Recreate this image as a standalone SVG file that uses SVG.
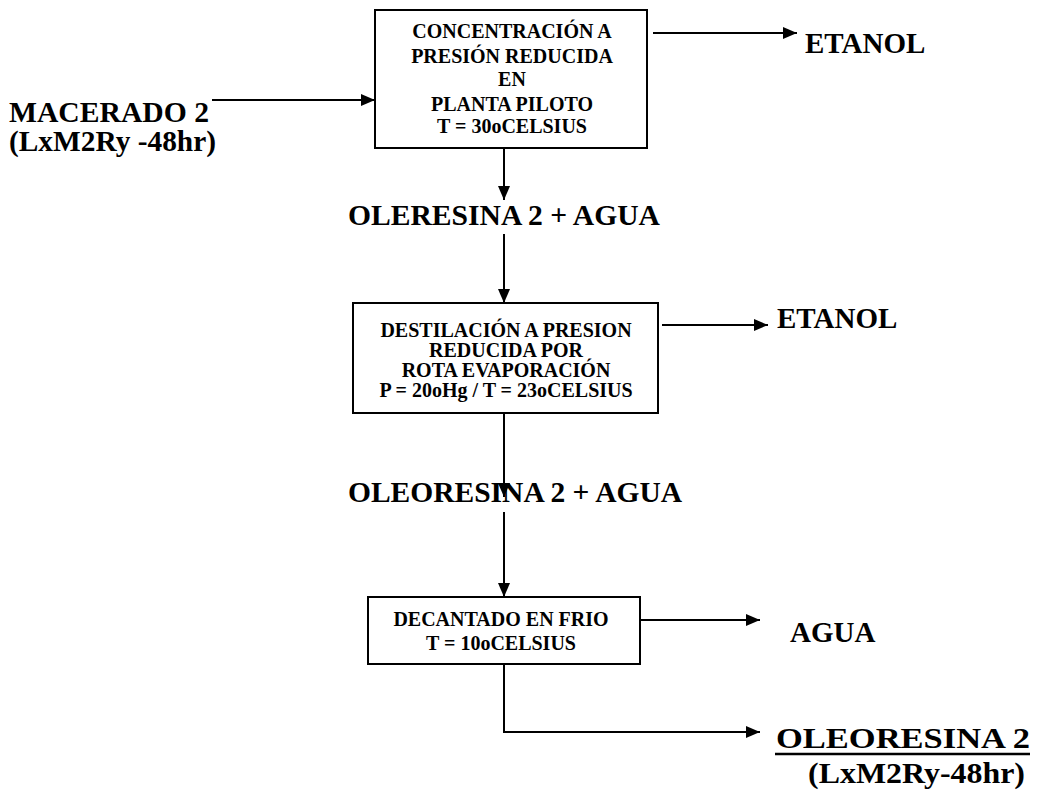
<svg xmlns="http://www.w3.org/2000/svg" width="1037" height="793" viewBox="0 0 1037 793">
  <style>
    .box { fill: #ffffff; stroke: #000000; stroke-width: 2; }
    .step { font-family: "Liberation Serif", "Times New Roman", serif; font-weight: bold; font-size: 20px; fill: #000000; text-anchor: middle; }
    .label { font-family: "Liberation Serif", "Times New Roman", serif; font-weight: bold; font-size: 29px; fill: #000000; }
    .flow { fill: none; stroke: #000000; stroke-width: 2; }
  </style>
  <defs>
    <marker id="arrow" markerWidth="14" markerHeight="12" refX="14" refY="6" orient="auto" markerUnits="userSpaceOnUse">
      <path d="M0,0 L14,6 L0,12 Z" fill="#000000"/>
    </marker>
  </defs>
  <rect width="1037" height="793" fill="#ffffff"/>

  <!-- process connectors -->
  <g id="connectors">
    <line class="flow" x1="212" y1="100" x2="375" y2="100" marker-end="url(#arrow)"/>
    <line class="flow" x1="653" y1="33" x2="797" y2="33" marker-end="url(#arrow)"/>
    <line class="flow" x1="504" y1="148" x2="504" y2="200" marker-end="url(#arrow)"/>
    <line class="flow" x1="504" y1="234" x2="504" y2="303" marker-end="url(#arrow)"/>
    <line class="flow" x1="662" y1="325" x2="768" y2="325" marker-end="url(#arrow)"/>
    <line class="flow" x1="504" y1="413" x2="504" y2="497" marker-end="url(#arrow)"/>
    <line class="flow" x1="504" y1="512" x2="504" y2="597" marker-end="url(#arrow)"/>
    <line class="flow" x1="640" y1="620" x2="760" y2="620" marker-end="url(#arrow)"/>
    <polyline class="flow" points="504,664 504,732 760,732" marker-end="url(#arrow)"/>
  </g>

  <!-- feed -->
  <g id="feed">
    <text class="label" x="9" y="122" font-size="28" textLength="200" lengthAdjust="spacingAndGlyphs">MACERADO 2</text>
    <text class="label" x="9" y="151" font-size="28" textLength="207" lengthAdjust="spacingAndGlyphs">(LxM2Ry -48hr)</text>
  </g>

  <!-- step 1 -->
  <g id="concentracion">
    <rect class="box" x="375" y="10" width="272" height="138"/>
    <text class="step" x="512" y="38">CONCENTRACIÓN A</text>
    <text class="step" x="512" y="63">PRESIÓN REDUCIDA</text>
    <text class="step" x="512" y="86">EN</text>
    <text class="step" x="512" y="111">PLANTA PILOTO</text>
    <text class="step" x="512" y="133">T = 30oCELSIUS</text>
  </g>

  <g id="etanol1">
    <text class="label" x="805" y="53">ETANOL</text>
  </g>

  <g id="oleresina-agua">
    <text class="label" x="348" y="225" textLength="312" lengthAdjust="spacingAndGlyphs">OLERESINA 2 + AGUA</text>
  </g>

  <!-- step 2 -->
  <g id="destilacion">
    <rect class="box" x="353" y="303" width="305" height="110"/>
    <text class="step" x="506" y="337">DESTILACIÓN A PRESION</text>
    <text class="step" x="506" y="357">REDUCIDA POR</text>
    <text class="step" x="506" y="377">ROTA EVAPORACIÓN</text>
    <text class="step" x="506" y="397">P = 20oHg / T = 23oCELSIUS</text>
  </g>

  <g id="etanol2">
    <text class="label" x="777" y="328">ETANOL</text>
  </g>

  <g id="oleoresina-agua">
    <text class="label" x="348" y="502" textLength="334" lengthAdjust="spacingAndGlyphs">OLEORESINA 2 + AGUA</text>
  </g>

  <!-- step 3 -->
  <g id="decantado">
    <rect class="box" x="368" y="597" width="272" height="67"/>
    <text class="step" x="501" y="626">DECANTADO EN FRIO</text>
    <text class="step" x="501" y="650">T = 10oCELSIUS</text>
  </g>

  <g id="agua">
    <text class="label" x="790" y="642">AGUA</text>
  </g>

  <!-- product -->
  <g id="producto">
    <text class="label" x="776" y="748" font-size="31" textLength="254" lengthAdjust="spacingAndGlyphs">OLEORESINA 2</text>
    <line x1="775" y1="754" x2="1030" y2="754" stroke="#000000" stroke-width="2.5"/>
    <text class="label" x="808" y="783" font-size="27" textLength="217" lengthAdjust="spacingAndGlyphs">(LxM2Ry-48hr)</text>
  </g>
</svg>
